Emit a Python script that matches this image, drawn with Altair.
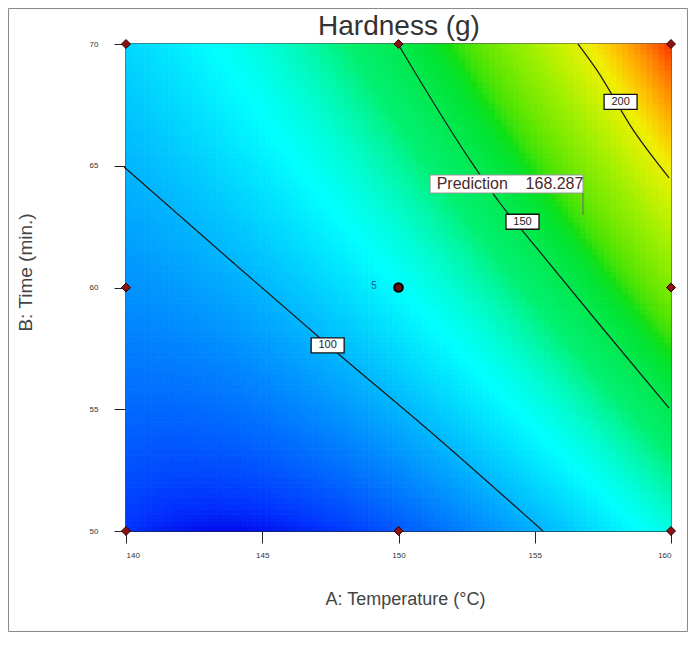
import altair as alt
import numpy as np
import pandas as pd

chart_title = "Hardness (g)"
x_ticks = [140, 145, 150, 155, 160]
y_ticks = [50, 55, 60, 65, 70]

# fitted response surface (coded units a=(A-150)/10, b=(B-60)/10):
# terms: 1, a, b, ab, a^2, b^2
coef = [116.82, 42.26, 34.18, 19.59, 18.08, -0.12]

# contour lines (A: temperature, B: time)
c100_A = [139.93, 143.82, 147.41, 151.52, 155.30]
c100_B = [64.95, 61.13, 57.64, 53.74, 50.0]
c150_A = [149.98, 152.62, 153.72, 154.83, 157.39, 159.93]
c150_B = [70.0, 65.24, 63.47, 61.95, 58.46, 55.05]
c200_A = [156.59, 157.28, 158.61, 159.93]
c200_B = [70.0, 68.93, 66.47, 64.5]

lab_A = [147.4, 154.55, 158.15]
lab_B = [57.62, 62.7, 67.62]
lab_t = ["100", "150", "200"]

design_A = [140, 140, 140, 150, 150, 160, 160, 160]
design_B = [50, 60, 70, 50, 70, 50, 60, 70]
center_A, center_B, center_n = 150, 60, "5"

pred_A, pred_B, pred_val = 156.77, 62.98, "168.287"

color_stops = [75.7, 117, 140, 163, 185, 203, 229]
color_range = ["#0010f0", "#00ffff", "#00f070", "#10e010", "#a0f000", "#f0f000", "#ff4000"]

n = 90
edges_A = np.linspace(140, 160, n + 1)
edges_B = np.linspace(50, 70, n + 1)
c = np.array(coef)
recs = []
for i in range(n):
    for j in range(n):
        ca = ((edges_A[i] + edges_A[i + 1]) / 2 - 150) / 10
        cb = ((edges_B[j] + edges_B[j + 1]) / 2 - 60) / 10
        h = c @ np.array([1, ca, cb, ca * cb, ca * ca, cb * cb])
        recs.append(dict(A0=edges_A[i], A1=edges_A[i + 1], B0=edges_B[j], B1=edges_B[j + 1], H=h))
grid = pd.DataFrame(recs)

xs = alt.Scale(domain=[140, 160], nice=False, zero=False)
ys = alt.Scale(domain=[50, 70], nice=False, zero=False)
cs = alt.Scale(domain=color_stops, range=color_range)

heat = alt.Chart(grid).mark_rect(strokeWidth=0.8).encode(
    x=alt.X("A0:Q", scale=xs, axis=alt.Axis(values=x_ticks, title="A: Temperature (°C)", titleX=279,
                                           titleFontSize=18)),
    x2="A1",
    y=alt.Y("B0:Q", scale=ys, axis=alt.Axis(values=y_ticks, title="B: Time (min.)", titleY=228,
                                           titleFontSize=19)),
    y2="B1",
    color=alt.Color("H:Q", scale=cs, legend=None),
    stroke=alt.Stroke("H:Q", scale=cs, legend=None),
)

lines = pd.DataFrame(
    [dict(level=100, A=x, B=y, o=k) for k, (x, y) in enumerate(zip(c100_A, c100_B))]
    + [dict(level=150, A=x, B=y, o=k) for k, (x, y) in enumerate(zip(c150_A, c150_B))]
    + [dict(level=200, A=x, B=y, o=k) for k, (x, y) in enumerate(zip(c200_A, c200_B))]
)
contours = alt.Chart(lines).mark_line(color="#1a1a1a", strokeWidth=1.2, interpolate="monotone").encode(
    x=alt.X("A:Q", scale=xs), y=alt.Y("B:Q", scale=ys), detail="level:N", order="o:Q")

labs = pd.DataFrame(dict(A=lab_A, B=lab_B, t=lab_t))
lab_box = alt.Chart(labs).mark_rect(width=33, height=15, fill="white", stroke="#111", strokeWidth=1.3).encode(
    x=alt.X("A:Q", scale=xs), y=alt.Y("B:Q", scale=ys))
lab_txt = alt.Chart(labs).mark_text(fontSize=11, color="#222", font="Liberation Sans").encode(
    x=alt.X("A:Q", scale=xs), y=alt.Y("B:Q", scale=ys), text="t:N")

dp = pd.DataFrame(dict(A=design_A, B=design_B))
design = alt.Chart(dp).mark_point(shape="diamond", filled=True, size=80, color="#8a1414",
                                  stroke="#300000", strokeWidth=1, opacity=1).encode(
    x=alt.X("A:Q", scale=xs), y=alt.Y("B:Q", scale=ys))
center = alt.Chart(pd.DataFrame(dict(A=[center_A], B=[center_B]))).mark_point(
    shape="circle", filled=True, size=75, color="#6a1010", stroke="#000", strokeWidth=2, opacity=1).encode(
    x=alt.X("A:Q", scale=xs), y=alt.Y("B:Q", scale=ys))
center_lab = alt.Chart(pd.DataFrame(dict(A=[center_A - 0.9], B=[center_B + 0.05], t=[center_n]))).mark_text(
    fontSize=10, color="#1f5f7a", font="Liberation Sans").encode(
    x=alt.X("A:Q", scale=xs), y=alt.Y("B:Q", scale=ys), text="t:N")

pred_label = "Prediction" + "\u00a0" * 4 + pred_val
pbox = pd.DataFrame(dict(A0=[151.16], A1=[156.77], B0=[63.88], B1=[64.62],
                         At=[151.4], Bt=[64.25], t=[pred_label]))
pred_box = alt.Chart(pbox).mark_rect(fill="white", stroke="#999", strokeWidth=1).encode(
    x=alt.X("A0:Q", scale=xs), x2="A1", y=alt.Y("B0:Q", scale=ys), y2="B1")
pred_txt = alt.Chart(pbox).mark_text(align="left", fontSize=16, color="#4a2a2a",
                                     font="Liberation Sans").encode(
    x=alt.X("At:Q", scale=xs), y=alt.Y("Bt:Q", scale=ys), text="t:N")
flag = alt.Chart(pd.DataFrame(dict(A=[pred_A], B0=[63.88], B1=[pred_B]))).mark_rule(color="#666", strokeWidth=1).encode(
    x=alt.X("A:Q", scale=xs), y=alt.Y("B0:Q", scale=ys), y2="B1")

frame = alt.Chart(pd.DataFrame(dict(k=[0]))).mark_rect(fill=None, stroke="#8a8a8a", strokeWidth=1).encode(
    x=alt.value(-117.5), x2=alt.value(561.5), y=alt.value(-35.5), y2=alt.value(587.5))

title = alt.Chart(pd.DataFrame(dict(t=[chart_title]))).mark_text(
    fontSize=28, font="Liberation Sans", color="#333", baseline="alphabetic").encode(
    x=alt.value(273), y=alt.value(-9), text="t:N")

chart = alt.layer(heat, contours, lab_box, lab_txt, design, center, center_lab,
                  pred_box, pred_txt, flag, frame, title).properties(
    width=545, height=487,
    autosize=alt.AutoSizeParams(type="none"),
    padding={"left": 118, "top": 36, "right": 17, "bottom": 102},
).configure_view(stroke="#222", strokeWidth=1.5).configure_axis(
    domainColor="#222", tickColor="#222", tickSize=12, labelFontSize=8, labelColor="#333",
    labelFont="Liberation Sans", titleFont="Liberation Sans", titleColor="#444",
    titleFontWeight="normal", grid=False,
).configure_axisX(labelPadding=8, titlePadding=31).configure_axisY(labelPadding=16, titlePadding=54)

chart.save("out.html", embed_options={"renderer": "svg", "actions": False})
